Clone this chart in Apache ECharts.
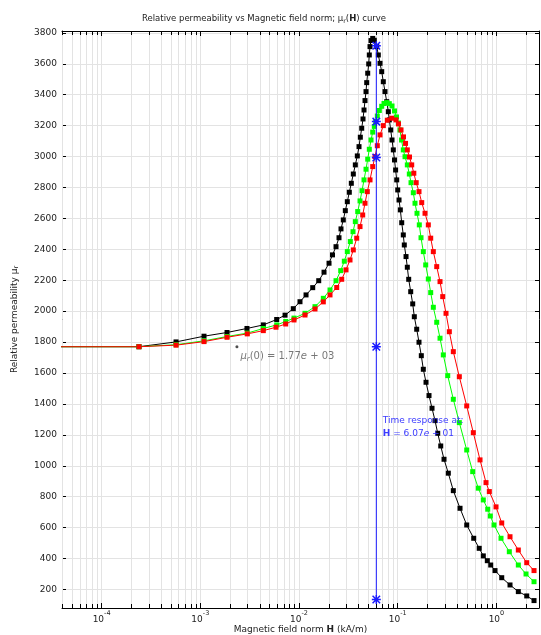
<!DOCTYPE html>
<html><head><meta charset="utf-8">
<script src="https://cdn.jsdelivr.net/npm/echarts@6/dist/echarts.min.js"></script>
<style>html,body{margin:0;padding:0;background:#fff}#c{width:541px;height:635px}</style>
</head><body><div id="c"></div>
<script>
// ---- data: [H (kA/m), mu_r] ----
const blackData = [[2e-5,1770],[2.39e-4,1770],[5.68e-4,1801],[1.09e-3,1838],[1.865e-3,1862],[2.97e-3,1888],[4.35e-3,1911],[5.94e-3,1946],[7.22e-3,1974],[8.75e-3,2016],[1.023e-2,2061],[1.178e-2,2105],[1.377e-2,2152],[1.584e-2,2197],[1.792e-2,2252],[2.014e-2,2310],[2.184e-2,2364],[2.371e-2,2417],[2.542e-2,2475],[2.663e-2,2532],[2.81e-2,2590],[2.945e-2,2650],[3.086e-2,2708],[3.233e-2,2769],[3.388e-2,2827],[3.55e-2,2887],[3.72e-2,2946],[3.897e-2,3004],[4.054e-2,3064],[4.18e-2,3125],[4.318e-2,3183],[4.45e-2,3243],[4.556e-2,3301],[4.663e-2,3362],[4.773e-2,3420],[4.851e-2,3478],[4.966e-2,3539],[5.083e-2,3599],[5.155e-2,3657],[5.24e-2,3711],[5.364e-2,3750],[5.58e-2,3764],[5.792e-2,3752],[6.128e-2,3711],[6.36e-2,3657],[6.618e-2,3603],[6.885e-2,3549],[7.146e-2,3484],[7.435e-2,3420],[7.737e-2,3355],[8.031e-2,3290],[8.221e-2,3237],[8.495e-2,3172],[8.755e-2,3107],[9.024e-2,3043],[9.28e-2,2978],[9.52e-2,2913],[9.77e-2,2849],[0.1,2784],[0.1031,2719],[0.1063,2655],[0.1098,2572],[0.1139,2493],[0.1166,2428],[0.1214,2353],[0.1251,2284],[0.1292,2206],[0.1354,2126],[0.1419,2047],[0.1473,1964],[0.1557,1883],[0.1643,1799],[0.1734,1712],[0.1817,1624],[0.1935,1540],[0.2075,1454],[0.2226,1372],[0.2388,1292],[0.2543,1210],[0.2728,1128],[0.2945,1042],[0.3256,952],[0.3659,839],[0.4278,725],[0.5002,617],[0.5888,531],[0.6695,466],[0.7365,417],[0.8087,386],[0.8756,358],[0.9678,322],[1.132,276],[1.373,229],[1.667,186],[2.028,158],[2.404,128]];

const greenData = [[2e-5,1770],[2.39e-4,1770],[5.68e-4,1783],[1.09e-3,1808],[1.865e-3,1836],[2.99e-3,1858],[4.35e-3,1888],[5.94e-3,1911],[7.33e-3,1933],[8.9e-3,1955],[1.15e-2,1986],[1.452e-2,2029],[1.763e-2,2083],[2.061e-2,2137],[2.371e-2,2197],[2.645e-2,2262],[2.877e-2,2323],[3.086e-2,2385],[3.31e-2,2450],[3.525e-2,2514],[3.72e-2,2579],[3.933e-2,2644],[4.15e-2,2713],[4.348e-2,2779],[4.556e-2,2849],[4.773e-2,2918],[4.966e-2,2983],[5.155e-2,3047],[5.364e-2,3107],[5.58e-2,3158],[5.792e-2,3195],[5.985e-2,3226],[6.213e-2,3262],[6.51e-2,3298],[6.885e-2,3325],[7.264e-2,3343],[7.737e-2,3349],[8.221e-2,3342],[8.755e-2,3327],[9.28e-2,3295],[9.723e-2,3256],[0.1014,3217],[0.1055,3172],[0.1093,3107],[0.1139,3043],[0.1186,2999],[0.1251,2946],[0.1311,2887],[0.1364,2831],[0.1439,2766],[0.1497,2698],[0.1568,2633],[0.1655,2558],[0.1722,2475],[0.1817,2385],[0.1921,2299],[0.2042,2208],[0.2159,2120],[0.2295,2025],[0.2484,1928],[0.2683,1825],[0.2897,1717],[0.3211,1583],[0.3659,1430],[0.4209,1279],[0.5002,1102],[0.5752,962],[0.6555,855],[0.7365,779],[0.8163,719],[0.8675,675],[0.9456,617],[1.113,531],[1.351,444],[1.667,358],[1.995,300],[2.404,250]];

const redData = [[2e-5,1770],[2.39e-4,1770],[5.68e-4,1780],[1.09e-3,1803],[1.865e-3,1831],[2.99e-3,1853],[4.35e-3,1874],[5.848e-3,1896],[7.33e-3,1917],[8.9e-3,1943],[1.15e-2,1975],[1.452e-2,2014],[1.763e-2,2060],[2.061e-2,2105],[2.41e-2,2153],[2.707e-2,2206],[2.994e-2,2267],[3.286e-2,2331],[3.55e-2,2396],[3.842e-2,2472],[4.15e-2,2547],[4.418e-2,2622],[4.663e-2,2698],[4.92e-2,2773],[5.24e-2,2849],[5.58e-2,2935],[5.888e-2,3000],[6.213e-2,3070],[6.618e-2,3140],[7.146e-2,3200],[7.845e-2,3235],[8.694e-2,3248],[9.612e-2,3237],[0.1019,3211],[0.108,3172],[0.1145,3127],[0.12,3085],[0.1251,3043],[0.1317,2997],[0.1386,2946],[0.1456,2892],[0.1539,2831],[0.1643,2773],[0.1751,2702],[0.1891,2633],[0.2042,2558],[0.2159,2472],[0.2295,2385],[0.2484,2288],[0.2683,2191],[0.2857,2094],[0.3086,1986],[0.3333,1867],[0.3659,1738],[0.4209,1576],[0.5002,1387],[0.5834,1214],[0.6821,1038],[0.7846,891],[0.8475,833],[0.9908,734],[1.132,630],[1.373,541],[1.667,455],[2.028,373],[2.404,322]];

const timeH = 0.0607;
const starMu = [3716, 3226, 2994, 1770, 135];
const mu0Point = [2.35e-3, 1770];
const timeLabelMu = 1250;
const xRange = [3.97e-5, 2.70];
const yRange = [80, 3812];

// ---- chart ----
const FONT = 'DejaVu Sans';
const chart = echarts.init(document.getElementById('c'), null, {renderer: 'canvas'});

const minorVals = [];
for (let k = -5; k <= 0; k++) {
  for (let m = 2; m <= 9; m++) {
    const v = m * Math.pow(10, k);
    if (v > xRange[0] && v < xRange[1]) minorVals.push([v, 1000]);
  }
}

const starPath = 'path://M5,0L7,0L7,12L5,12Z M0,5L12,5L12,7L0,7Z M0.3,1.7L1.7,0.3L11.7,10.3L10.3,11.7Z M10.3,0.3L11.7,1.7L1.7,11.7L0.3,10.3Z';

function curve(name, data, color) {
  return {
    name, type: 'line', data, xAxisIndex: 0, yAxisIndex: 0,
    symbol: 'rect', symbolSize: 5, showAllSymbol: true,
    itemStyle: {color}, lineStyle: {color, width: 1},
    clip: true, z: 3
  };
}

const option = {
  animation: false,
  backgroundColor: '#fff',
  textStyle: {fontFamily: FONT},
  title: {
    text: 'Relative permeability vs Magnetic field norm; μ{s|r}({b|H}) curve',
    left: 142, top: 14, padding: 0,
    textStyle: {
      fontFamily: FONT, fontSize: 8.5, fontWeight: 'normal', color: '#222',
      rich: {
        s: {fontSize: 6.3, verticalAlign: 'bottom', fontFamily: FONT, color: '#222', padding: [4,0,0,0]},
        b: {fontSize: 8.5, fontWeight: 'bold', fontFamily: FONT, color: '#222'}
      }
    }
  },
  grid: {left: 62, right: 2, top: 31, bottom: 27, containLabel: false, outerBoundsMode: 'none'},
  xAxis: [{
    type: 'log', logBase: 10, min: xRange[0], max: xRange[1], position: 'bottom',
    name: 'Magnetic field norm {b|H} (kA/m)', nameLocation: 'middle', nameGap: 17, nameMoveOverlap: false,
    nameTextStyle: {fontFamily: FONT, fontSize: 9, color: '#222',
      rich: {b: {fontWeight: 'bold', fontFamily: FONT, fontSize: 9, color: '#222'}}},
    axisLine: {show: true, lineStyle: {color: '#000', width: 1}},
    axisTick: {show: true, inside: true, length: 5, lineStyle: {color: '#000'}},
    axisLabel: {
      showMinLabel: false, showMaxLabel: false, margin: 2,
      formatter: v => '{n|10}{s|' + Math.round(Math.log10(v)) + '}',
      rich: {
        n: {fontFamily: FONT, fontSize: 9, color: '#222', lineHeight: 14, verticalAlign: 'bottom'},
        s: {fontFamily: FONT, fontSize: 6.5, color: '#222', verticalAlign: 'top', lineHeight: 14}
      }
    },
    splitLine: {show: true, lineStyle: {color: '#e3e3e3', width: 1}}
  }, {
    type: 'log', logBase: 10, min: xRange[0], max: xRange[1], position: 'top',
    axisLine: {show: true, lineStyle: {color: '#000', width: 1}},
    axisTick: {show: true, inside: true, length: 5, lineStyle: {color: '#000'}},
    axisLabel: {show: false}, splitLine: {show: false}
  }],
  yAxis: [{
    type: 'value', min: yRange[0], max: yRange[1], splitNumber: 18, position: 'left',
    name: 'Relative permeability μ{s|r}', nameLocation: 'middle', nameGap: 42, nameRotate: 90, nameMoveOverlap: false,
    nameTextStyle: {fontFamily: FONT, fontSize: 9, color: '#222',
      rich: {s: {fontFamily: FONT, fontSize: 6.5, color: '#222', verticalAlign: 'bottom', padding: [4,0,0,0]}}},
    axisLine: {show: true, lineStyle: {color: '#000', width: 1}},
    axisTick: {show: true, inside: true, length: 4, lineStyle: {color: '#000'}},
    axisLabel: {showMinLabel: false, showMaxLabel: false, fontFamily: FONT, fontSize: 9, color: '#222', margin: 5,
      formatter: v => String(v)},
    splitLine: {show: true, lineStyle: {color: '#e3e3e3', width: 1}}
  }, {
    type: 'value', min: yRange[0], max: yRange[1], splitNumber: 18, position: 'right',
    axisLine: {show: true, lineStyle: {color: '#000', width: 1}},
    axisTick: {show: true, inside: true, length: 4, lineStyle: {color: '#000'}},
    axisLabel: {show: false}, splitLine: {show: false}
  }],
  series: [
    {
      type: 'custom', xAxisIndex: 0, yAxisIndex: 0, data: minorVals, z: 1, silent: true,
      encode: {x: 0, y: 1},
      renderItem: function (params, api) {
        const x = Math.round(api.coord([api.value(0), 1000])[0]) + 0.5;
        const top = params.coordSys.y, bottom = params.coordSys.y + params.coordSys.height;
        return {type: 'group', children: [
          {type: 'line', shape: {x1: x, y1: top, x2: x, y2: bottom}, style: {stroke: '#e3e3e3', lineWidth: 1}},
          {type: 'line', shape: {x1: x, y1: top, x2: x, y2: top + 4}, style: {stroke: '#000', lineWidth: 1}},
          {type: 'line', shape: {x1: x, y1: bottom, x2: x, y2: bottom - 4}, style: {stroke: '#000', lineWidth: 1}}
        ]};
      }
    },
    curve('black', blackData, '#000000'),
    curve('green', greenData, '#00ff00'),
    curve('red', redData, '#ff0000'),
    {
      type: 'line', xAxisIndex: 0, yAxisIndex: 0, z: 5,
      data: starMu.map(m => [timeH, m]),
      symbol: starPath, symbolSize: 9, showAllSymbol: true,
      itemStyle: {color: '#1a1aff'}, lineStyle: {color: '#1a1aff', width: 1}
    },
    {
      type: 'scatter', xAxisIndex: 0, yAxisIndex: 0, z: 5,
      data: [mu0Point], symbol: 'circle', symbolSize: 3,
      itemStyle: {color: '#222'},
      label: {
        show: true, position: 'right', distance: 2, offset: [0, 10],
        formatter: '{i|μ}{s|r}{n|(0) = 1.77}{i|e}{n| + 03}',
        rich: {
          i: {fontFamily: FONT, fontSize: 10, fontStyle: 'italic', color: '#555'},
          n: {fontFamily: FONT, fontSize: 10, color: '#555'},
          s: {fontFamily: FONT, fontSize: 7, fontStyle: 'italic', color: '#555', verticalAlign: 'bottom', padding: [5,0,0,0]}
        }
      }
    },
    {
      type: 'scatter', xAxisIndex: 0, yAxisIndex: 0, z: 6,
      data: [[timeH, timeLabelMu]], symbol: 'circle', symbolSize: 1,
      itemStyle: {opacity: 0},
      label: {
        show: true, position: 'right', distance: 6, opacity: 1,
        formatter: '{n|Time response at:}\n{b|H}{n| = 6.07}{i|e}{n| + 01}',
        rich: {
          n: {fontFamily: FONT, fontSize: 9, color: '#3a3aff', lineHeight: 13},
          b: {fontFamily: FONT, fontSize: 9, fontWeight: 'bold', color: '#3a3aff', lineHeight: 13},
          i: {fontFamily: FONT, fontSize: 9, fontStyle: 'italic', color: '#3a3aff', lineHeight: 13}
        }
      }
    }
  ]
};
chart.setOption(option);
</script>
</body></html>
